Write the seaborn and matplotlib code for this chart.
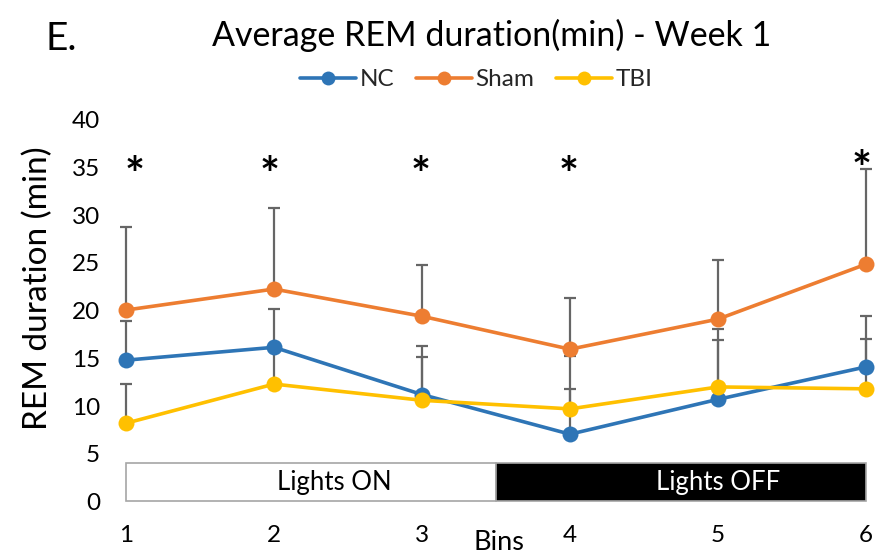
import matplotlib
matplotlib.use("Agg")
import matplotlib.pyplot as plt
from matplotlib.patches import Rectangle
from matplotlib.lines import Line2D
import numpy as np
import pandas as pd
import seaborn as sns

# Mean REM duration (min) per 4-h bin and upper SEM, week 1
bins = [1, 2, 3, 4, 5, 6]
groups = ["NC", "Sham", "TBI"]
nc_mean = [14.8, 16.15, 11.2, 7.05, 10.7, 14.1]
sham_mean = [20.05, 22.25, 19.4, 15.95, 19.1, 24.85]
tbi_mean = [8.2, 12.3, 10.6, 9.7, 12.0, 11.8]
nc_err = [4.1, 4.05, 5.1, 4.7, 7.4, 5.3]
sham_err = [8.65, 8.45, 5.4, 5.35, 6.15, 9.95]
tbi_err = [4.1, 3.7, 4.5, 5.5, 4.9, 5.2]
sig_bins = [1, 2, 3, 4, 6]
yticks = [0, 5, 10, 15, 20, 25, 30, 35, 40]

colors = {"NC": "#2E75B6", "Sham": "#ED7D31", "TBI": "#FFC000"}
err_color = "#666666"
FONT = "Lato"

sns.set_theme(style="white")
plt.rcParams["font.family"] = [FONT, "DejaVu Sans"]

means = {"NC": nc_mean, "Sham": sham_mean, "TBI": tbi_mean}
errs = {"NC": nc_err, "Sham": sham_err, "TBI": tbi_err}
df = pd.DataFrame(
    [(b, g, m) for g in groups for b, m in zip(bins, means[g])],
    columns=["Bin", "Group", "REM"],
)

fig = plt.figure(figsize=(8.84, 5.57), dpi=100)
ax = fig.add_axes([0.1258, 0.0996, 0.8706, 0.6858])

# upper-only error bars behind the lines
for g in groups:
    ax.errorbar(bins, means[g], yerr=[np.zeros(len(bins)), errs[g]],
                fmt="none", ecolor=err_color, elinewidth=1.6,
                capsize=4.5, capthick=1.6, zorder=1, clip_on=False)

sns.lineplot(data=df, x="Bin", y="REM", hue="Group", hue_order=groups,
             palette=colors, marker="o", markersize=11.5, markeredgewidth=0,
             linewidth=2.6, ax=ax, legend=False, zorder=3)
for ln in ax.lines:
    ln.set_clip_on(False)

# light / dark phase bars
ax.add_patch(Rectangle((1, 0.1), 2.5, 3.95, facecolor="white",
                       edgecolor="#A6A6A6", linewidth=1.2, zorder=2))
ax.add_patch(Rectangle((3.5, 0.1), 2.5, 3.95, facecolor="black",
                       edgecolor="#A6A6A6", linewidth=1.2, zorder=2))
ax.text(2.41, 2.0, "Lights ON", ha="center", va="center",
        fontsize=18.5, color="black", zorder=4)
ax.text(5.0, 2.0, "Lights OFF", ha="center", va="center",
        fontsize=18.5, color="white", zorder=4)

# significance markers
for b in sig_bins:
    y = 34.6 if b == 6 else 34.0
    dx = {1: 0.06, 2: -0.03, 3: -0.01, 4: -0.01, 6: -0.03}[b]
    ax.text(b + dx, y, "*", ha="center", va="center", fontsize=34,
            fontweight="bold", color="black", zorder=5)

ax.set_xlim(0.9, 6.1)
ax.set_ylim(0, 40)
ax.set_xticks(bins)
ax.set_xticklabels([str(b) for b in bins])
ax.set_yticks(yticks)
ax.set_yticklabels([str(t) for t in yticks])
ax.tick_params(axis="both", length=0, labelsize=17.5, colors="black")
ax.tick_params(axis="x", pad=17)
ax.tick_params(axis="y", pad=8)
for s in ax.spines.values():
    s.set_visible(False)
ax.set_xlabel("")
ax.set_ylabel("")

fig.text(0.0425, 0.482, "REM duration (min)", rotation=90, ha="center",
         va="center", fontsize=24, color="black")
fig.text(0.5645, 0.0126, "Bins", ha="center", va="baseline",
         fontsize=19.5, color="black")
fig.text(0.5566, 0.937, "Average REM duration(min) - Week 1", ha="center",
         va="center", fontsize=24.5, color="black")
fig.text(0.069, 0.93, "E.", ha="center", va="center", fontsize=28,
         color="black")

handles = [Line2D([0], [0], color=colors[g], marker="o", markersize=10,
                  markeredgewidth=0, linewidth=2.6) for g in groups]
fig.legend(handles, groups, loc="center", bbox_to_anchor=(0.539, 0.857),
           ncol=3, frameon=False, fontsize=17.5, handlelength=2.3,
           handletextpad=0.15, columnspacing=0.9)

fig.savefig("out.png", dpi=100, facecolor="white")
